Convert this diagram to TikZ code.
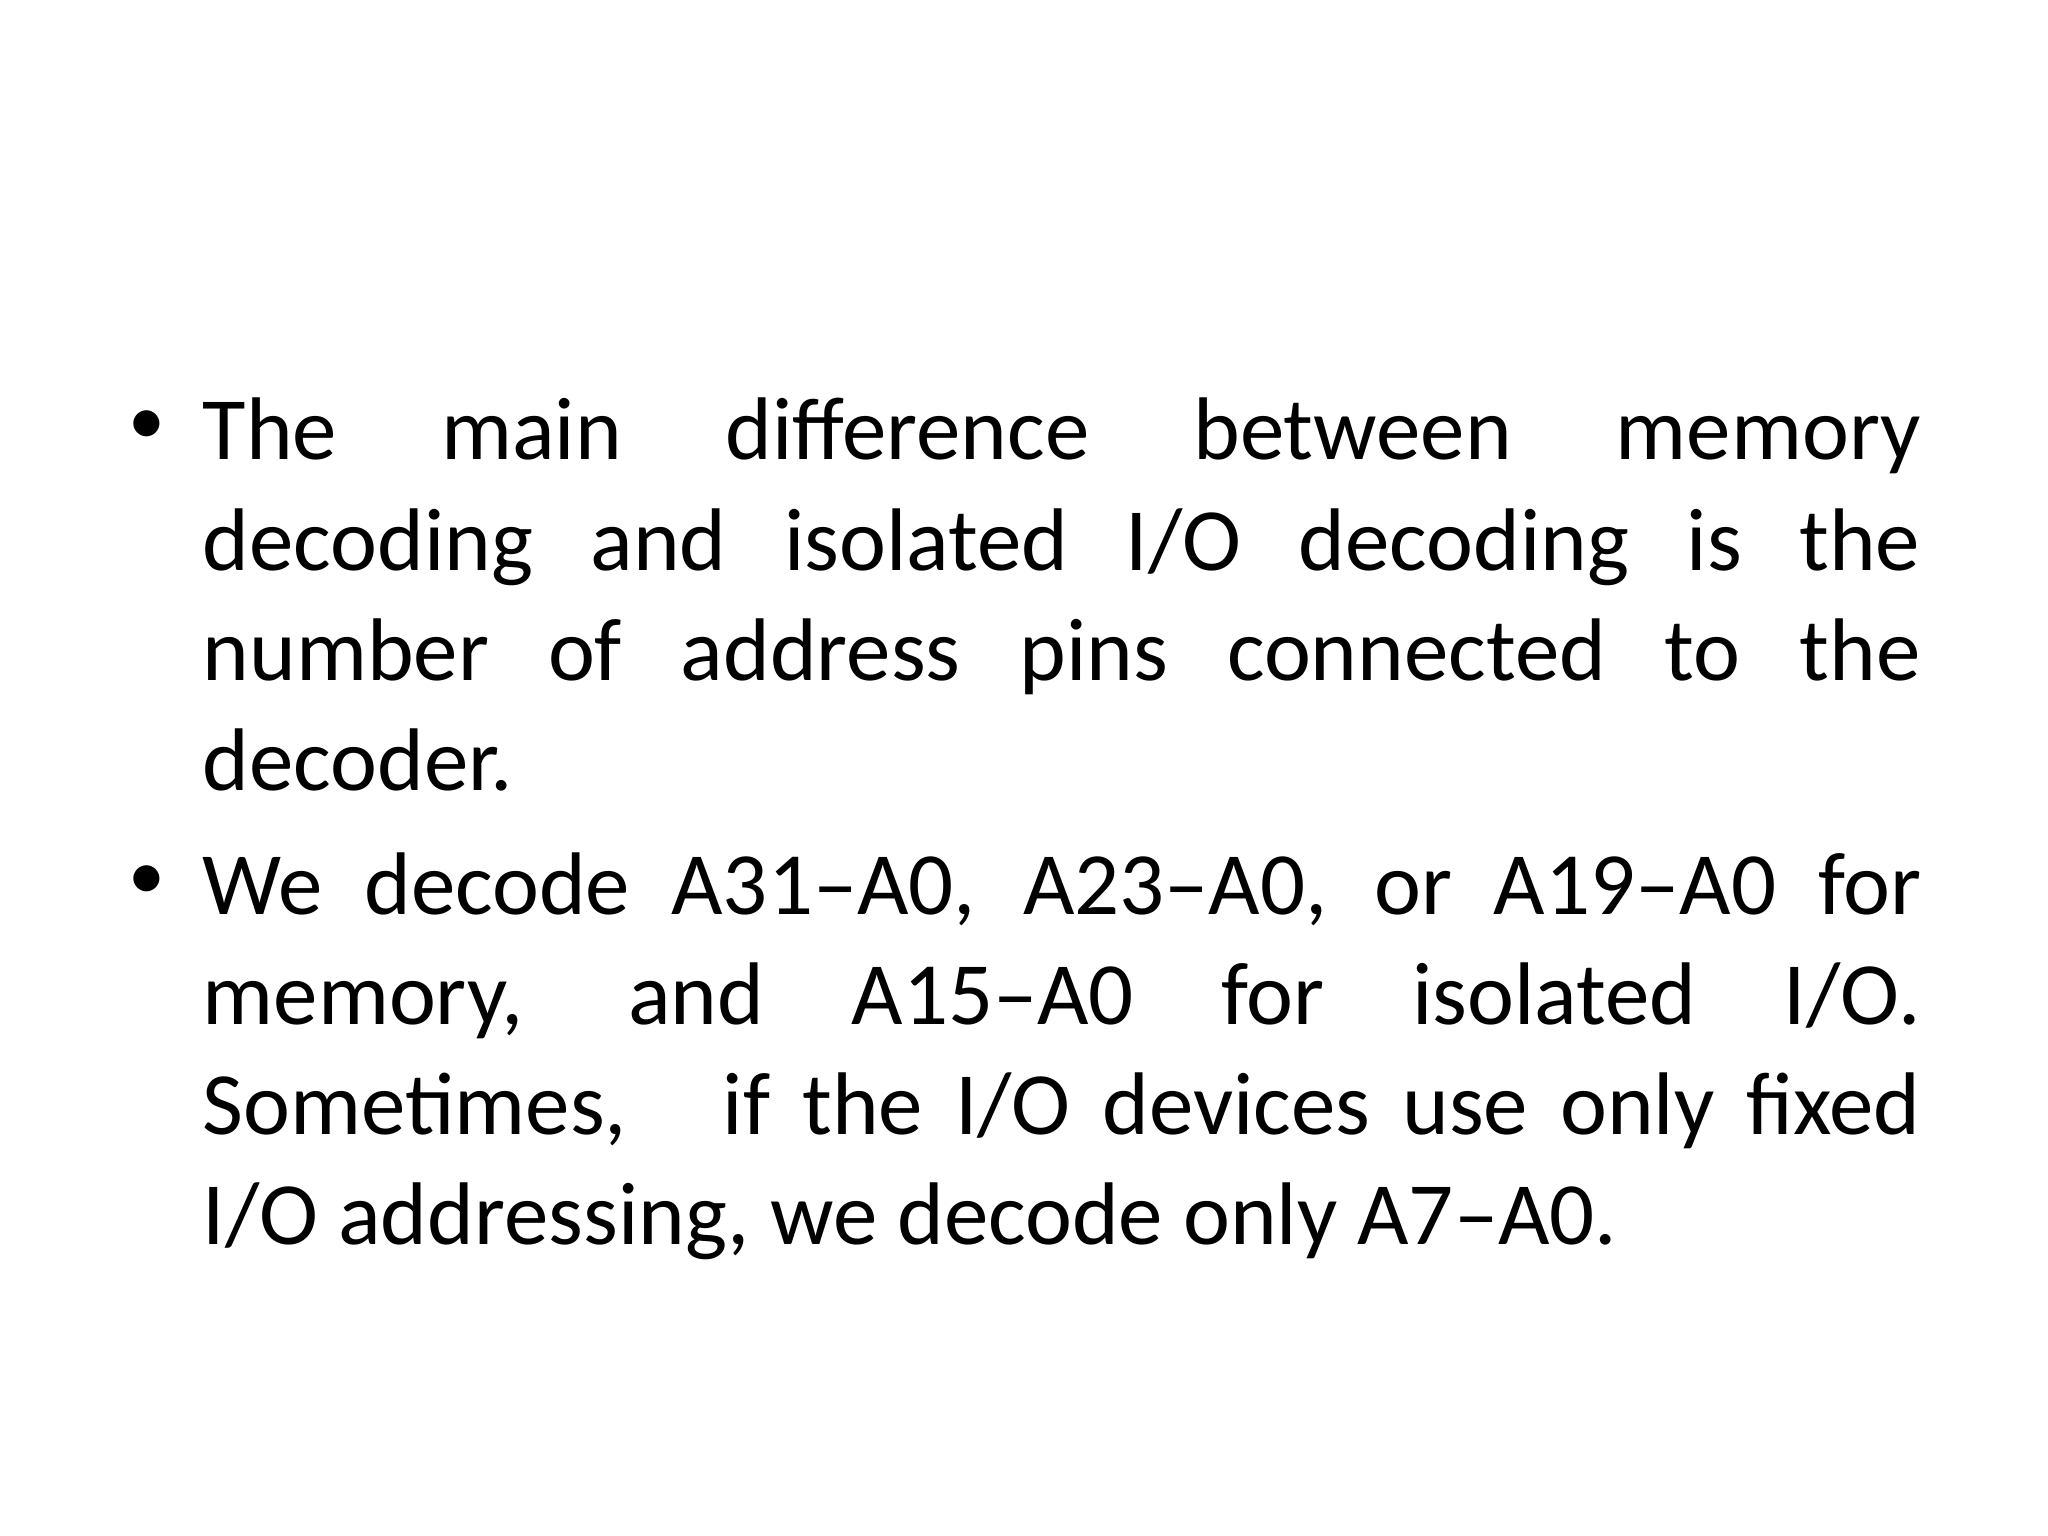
\documentclass[tikz,border=0pt]{standalone}
\usepackage{fontspec}
\setmainfont{Carlito}
\begin{document}
\begin{tikzpicture}[x=1cm,y=1cm,
  para/.style={anchor=base west,inner sep=0pt,text width=17.18cm,align=justify,font=\fontsize{25.3}{31.3}\selectfont},
  bul/.style={anchor=base west,inner sep=0pt,font=\fontsize{21}{26}\selectfont}]
\useasboundingbox[fill=white] (0,0) rectangle (20.48,-15.36);
\node[bul] (b1) at (1.28,-4.45) {•};
\node[para] (p1) at (2.02,-4.6) {\vtop{The main difference between memory\linebreak decoding and isolated I/O decoding is the\linebreak number of address pins connected to the\linebreak decoder.}};
\node[bul] (b2) at (1.28,-8.99) {•};
\node[para] (p2) at (2.02,-9.14) {\vtop{We decode A31–A0, A23–A0, or A19–A0 for\linebreak memory, and A15–A0 for isolated I/O.\linebreak Sometimes,\ \ \ if the I/O devices use only fixed\linebreak I/O addressing, we decode only A7–A0.}};
\end{tikzpicture}
\end{document}
